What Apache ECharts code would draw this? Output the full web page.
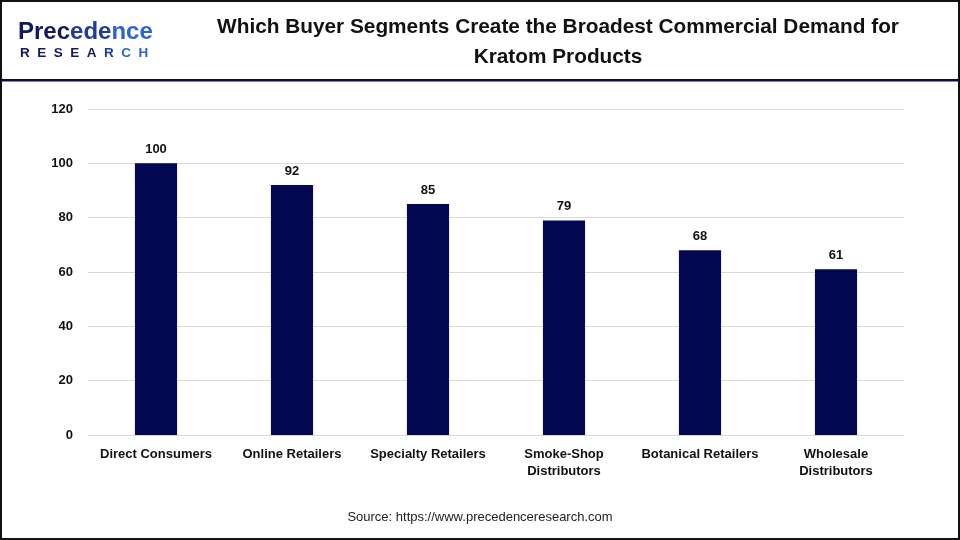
<!DOCTYPE html>
<html>
<head>
<meta charset="utf-8">
<script src="https://cdn.jsdelivr.net/npm/echarts@6/dist/echarts.min.js"></script>
<style>
  html, body { margin: 0; padding: 0; background: #fff; }
  #container { width: 960px; height: 540px; }
</style>
</head>
<body>
<div id="container"></div>
<script>
// 数据
var categories = ['Direct Consumers', 'Online Retailers', 'Specialty Retailers', 'Smoke-Shop\nDistributors', 'Botanical Retailers', 'Wholesale\nDistributors'];
var values = [100, 92, 85, 79, 68, 61];
var yTicks = [0, 20, 40, 60, 80, 100, 120];

var myChart = echarts.init(document.getElementById('container'));
var font = 'Arial, "Liberation Sans", sans-serif';

// logo 颜色分段（深蓝到亮蓝）
var logoBig = 'bold 24px ' + font;
var logoSmall = 'bold 13.5px ' + font;

var option = {
    backgroundColor: '#fff',
    animation: false,
    title: {
        text: 'Which Buyer Segments Create the Broadest Commercial Demand for\nKratom Products',
        left: 553,
        top: 7,
        textAlign: 'center',
        textStyle: { fontFamily: font, fontSize: 20.8, fontWeight: 'bold', color: '#111', lineHeight: 30 }
    },
    graphic: [
        // 外框
        { type: 'rect', shape: { x: 1, y: 1, width: 958, height: 538 }, style: { fill: 'none', stroke: '#111', lineWidth: 2 } },
        // 标题分隔线
        { type: 'rect', shape: { x: 0, y: 79, width: 960, height: 2.5 }, style: { fill: '#0b0f3a' } },
        // logo
        { type: 'text', left: 18, top: 20, style: {
            text: '{a|Prec}{b|ede}{c|nce}',
            rich: {
                a: { font: logoBig, fill: '#111a5c' },
                b: { font: logoBig, fill: '#1f3c9c' },
                c: { font: logoBig, fill: '#2e63d4' }
            }
        } },
        { type: 'text', left: 20, top: 46, style: {
            text: '{a|R  E  S  E  A  }{b|R  }{c|C  H}',
            rich: {
                a: { font: logoSmall, fill: '#111a5c' },
                b: { font: logoSmall, fill: '#1f3c9c' },
                c: { font: logoSmall, fill: '#2e63d4' }
            }
        } },
        // 来源
        { type: 'text', left: 'center', top: 511, style: { text: 'Source: https://www.precedenceresearch.com', font: '13px ' + font, fill: '#222' } }
    ],
    grid: { left: 88, right: 56, top: 109, bottom: 105, containLabel: false },
    xAxis: {
        type: 'category',
        data: categories,
        axisTick: { show: false },
        axisLine: { lineStyle: { color: '#d9d9d9' } },
        axisLabel: { interval: 0, margin: 11, fontFamily: font, fontSize: 13, fontWeight: 'bold', color: '#111', lineHeight: 17 }
    },
    yAxis: {
        type: 'value',
        min: yTicks[0],
        max: yTicks[yTicks.length - 1],
        interval: 20,
        axisLine: { show: false },
        axisTick: { show: false },
        splitLine: { lineStyle: { color: '#d9d9d9' } },
        axisLabel: { margin: 15, fontFamily: font, fontSize: 13, fontWeight: 'bold', color: '#111' }
    },
    series: [{
        type: 'bar',
        data: values,
        barWidth: '31%',
        itemStyle: { color: '#020852' },
        label: { show: true, position: 'top', distance: 7, fontFamily: font, fontSize: 13, fontWeight: 'bold', color: '#111' }
    }]
};
myChart.setOption(option, true);
</script>
</body>
</html>
